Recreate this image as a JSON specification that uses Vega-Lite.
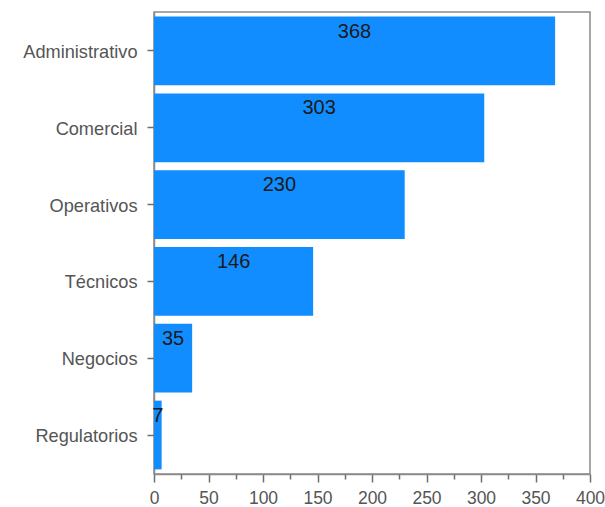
{
  "$schema": "https://vega.github.io/schema/vega-lite/v6.json",
  "width": 436,
  "height": 462,
  "autosize": {"type": "none"},
  "padding": {"left": 154, "top": 12, "right": 15, "bottom": 33},
  "background": "white",
  "config": {
    "font": "Liberation Sans",
    "view": {"stroke": "#8a8a8a", "strokeWidth": 1.5},
    "axis": {"domainColor": "#8a8a8a", "domainWidth": 1.5, "tickColor": "#6e6e6e", "tickWidth": 1.5, "grid": false, "labelColor": "#555555", "labelFont": "Liberation Sans", "labelFontSize": 17.5}
  },
  "data": {
    "values": [
      {"category": "Administrativo", "value": 368},
      {"category": "Comercial", "value": 303},
      {"category": "Operativos", "value": 230},
      {"category": "Técnicos", "value": 146},
      {"category": "Negocios", "value": 35},
      {"category": "Regulatorios", "value": 7}
    ]
  },
  "encoding": {
    "y": {
      "field": "category",
      "type": "nominal",
      "sort": ["Administrativo", "Comercial", "Operativos", "Técnicos", "Negocios", "Regulatorios"],
      "scale": {"paddingInner": 0.105, "paddingOuter": 0.06},
      "axis": {"title": null, "tickSize": 7, "labelPadding": 10, "domain": true, "labelFontSize": 18.2, "labelBaseline": "middle", "labelOffset": 2}
    }
  },
  "layer": [
    {
      "mark": {"type": "bar", "color": "#118DFF"},
      "encoding": {
        "x": {
          "field": "value",
          "type": "quantitative",
          "scale": {"domain": [0, 400], "nice": false},
          "axis": {"title": null, "orient": "bottom", "values": [0, 50, 100, 150, 200, 250, 300, 350, 400], "tickSize": 8, "labelPadding": 7, "labelFlush": false, "labelOverlap": false}
        }
      }
    },
    {
      "transform": [{"calculate": "datum.value / 2", "as": "mid"}],
      "mark": {"type": "text", "baseline": "top", "align": "center", "dy": 5, "fontSize": 20, "color": "#1a1a1a", "font": "Liberation Sans"},
      "encoding": {
        "x": {
          "field": "mid",
          "type": "quantitative",
          "scale": {"domain": [0, 400], "nice": false},
          "axis": {"title": null, "orient": "bottom", "values": [25, 75, 125, 175, 225, 275, 325, 375], "tickSize": 5, "labels": false, "domain": false}
        },
        "y": {
          "field": "category",
          "type": "nominal",
          "sort": ["Administrativo", "Comercial", "Operativos", "Técnicos", "Negocios", "Regulatorios"],
          "bandPosition": 0
        },
        "text": {"field": "value", "type": "quantitative"}
      }
    }
  ],
  "resolve": {"axis": {"x": "independent"}}
}
